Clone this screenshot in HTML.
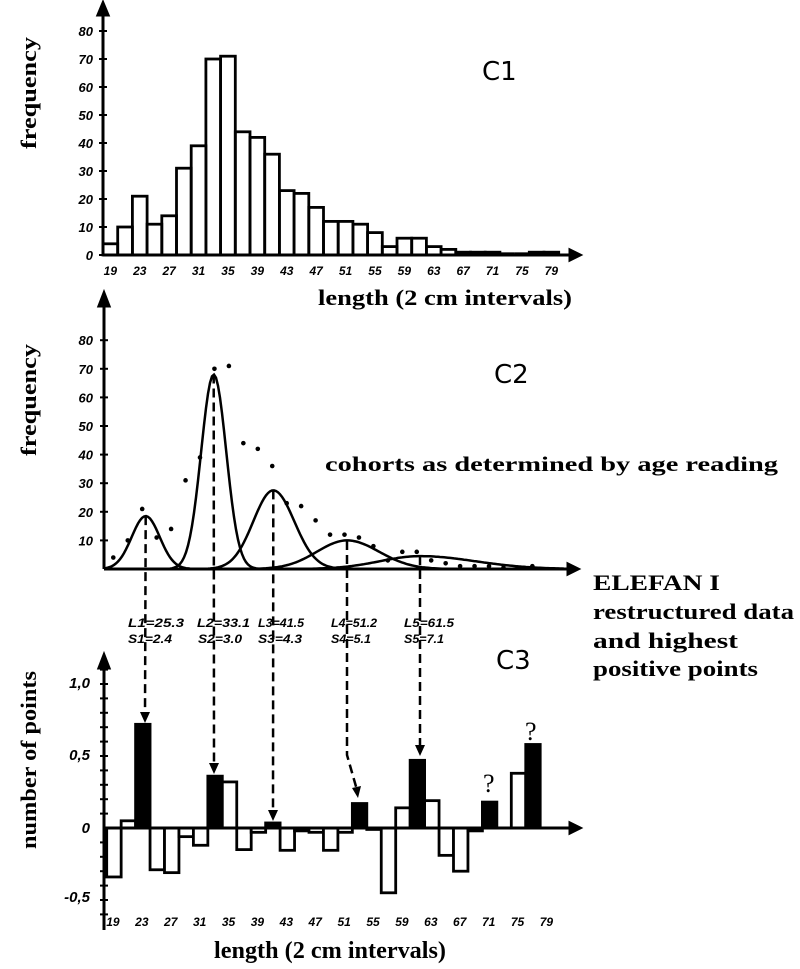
<!DOCTYPE html>
<html><head><meta charset="utf-8"><style>
html,body{margin:0;padding:0;background:#fff;width:800px;height:969px;overflow:hidden}
svg{display:block}
.hl{font-family:"Liberation Sans",sans-serif;font-style:italic;font-weight:bold;font-size:13px;fill:#000}
.tl{font-family:"Liberation Sans",sans-serif;font-style:italic;font-weight:bold;font-size:12px;fill:#000}
.sr{font-family:"Liberation Serif",serif;font-weight:bold;fill:#000}
.cl{font-family:"DejaVu Sans",sans-serif;font-size:26px;fill:#000}
</style></head><body>
<svg id="s" width="800" height="969" viewBox="0 0 800 969" xmlns="http://www.w3.org/2000/svg">
<g id="g" stroke="#000" fill="none" stroke-width="3"></g>
<text class="sr" font-size="22" transform="translate(36,93) rotate(-90)" text-anchor="middle" textLength="112" lengthAdjust="spacingAndGlyphs">frequency</text>
<text class="sr" font-size="22" transform="translate(36,400) rotate(-90)" text-anchor="middle" textLength="112" lengthAdjust="spacingAndGlyphs">frequency</text>
<text class="sr" font-size="22" transform="translate(36,760) rotate(-90)" text-anchor="middle" textLength="178" lengthAdjust="spacingAndGlyphs">number of points</text>
<text class="cl" x="482" y="80">C1</text>
<text class="cl" x="494" y="383">C2</text>
<text class="cl" x="496" y="669">C3</text>
<text class="sr" font-size="22" x="318" y="305" textLength="254" lengthAdjust="spacingAndGlyphs">length (2 cm intervals)</text>
<text class="sr" font-size="24" x="214" y="958" textLength="232" lengthAdjust="spacingAndGlyphs">length (2 cm intervals)</text>
<text class="sr" font-size="21" x="325" y="471" textLength="453" lengthAdjust="spacingAndGlyphs">cohorts as determined by age reading</text>
<text class="sr" font-size="22" x="593" y="590" textLength="127" lengthAdjust="spacingAndGlyphs">ELEFAN I</text>
<text class="sr" font-size="22" x="593" y="619" textLength="201" lengthAdjust="spacingAndGlyphs">restructured data</text>
<text class="sr" font-size="22" x="593" y="648" textLength="145" lengthAdjust="spacingAndGlyphs">and highest</text>
<text class="sr" font-size="22" x="593" y="676" textLength="165" lengthAdjust="spacingAndGlyphs">positive points</text>
<text class="tl" x="128" y="627" textLength="56" lengthAdjust="spacingAndGlyphs">L1=25.3</text><text class="tl" x="128" y="643" textLength="44" lengthAdjust="spacingAndGlyphs">S1=2.4</text>
<text class="tl" x="197" y="627" textLength="53" lengthAdjust="spacingAndGlyphs">L2=33.1</text><text class="tl" x="198" y="643" textLength="44" lengthAdjust="spacingAndGlyphs">S2=3.0</text>
<text class="tl" x="258" y="627" textLength="46" lengthAdjust="spacingAndGlyphs">L3=41.5</text><text class="tl" x="258" y="643" textLength="44" lengthAdjust="spacingAndGlyphs">S3=4.3</text>
<text class="tl" x="331" y="627" textLength="46" lengthAdjust="spacingAndGlyphs">L4=51.2</text><text class="tl" x="331" y="643" textLength="40" lengthAdjust="spacingAndGlyphs">S4=5.1</text>
<text class="tl" x="404" y="627" textLength="50" lengthAdjust="spacingAndGlyphs">L5=61.5</text><text class="tl" x="404" y="643" textLength="40" lengthAdjust="spacingAndGlyphs">S5=7.1</text>
<text class="sr" font-size="26" x="483" y="792" style="font-weight:normal">?</text>
<text class="sr" font-size="26" x="525" y="740" style="font-weight:normal">?</text>
<text class="hl" x="90" y="688" text-anchor="end" style="font-size:15px">1,0</text>
<text class="hl" x="90" y="760" text-anchor="end" style="font-size:15px">0,5</text>
<text class="hl" x="90" y="833" text-anchor="end" style="font-size:15px">0</text>
<text class="hl" x="90" y="902" text-anchor="end" style="font-size:15px">-0,5</text>
</svg>
<script>
var g=document.getElementById('g'),s=document.getElementById('s'),NS='http://www.w3.org/2000/svg';
function el(t,a,p){var e=document.createElementNS(NS,t);for(var k in a)e.setAttribute(k,a[k]);(p||g).appendChild(e);return e;}
function txt(x,y,t,c,anc){var e=el('text',{x:x,y:y,'class':c,'text-anchor':anc||'middle'},s);e.textContent=t;}
var f=[4,10,21,11,14,31,39,70,71,44,42,36,23,22,17,12,12,11,8,3,6,6,3,2,1,1,1,0.5,0.5,1,1];
var x0=103,w=14.7,y0=255,k=2.8;
for(var i=0;i<f.length;i++){var h=f[i]*k;if(h<1.5){el('line',{x1:x0+i*w,y1:y0-h,x2:x0+(i+1)*w,y2:y0-h,'stroke-width':2.5});continue;}
el('rect',{x:x0+i*w,y:y0-h,width:w,height:h,'stroke-width':2.8});}
el('line',{x1:x0,y1:y0,x2:575,y2:y0});el('polygon',{points:'580,255 570,250 570,260',fill:'#000'});
el('line',{x1:x0,y1:y0,x2:x0,y2:10});el('polygon',{points:'103,3 98,15 108,15',fill:'#000'});
for(var v=0;v<=80;v+=10){var yy=y0-v*k;el('line',{x1:99,y1:yy,x2:107,y2:yy,'stroke-width':2});txt(93,yy+5,v,'hl','end');}
var labs=[19,23,27,31,35,39,43,47,51,55,59,63,67,71,75,79];
for(var i=0;i<16;i++){txt(x0+w*(2*i+0.5),275,labs[i],'tl');}
var X0=104,Y0=569,K=2.86;
el('line',{x1:X0,y1:Y0,x2:573,y2:Y0});el('polygon',{points:'578,569 568,564 568,574',fill:'#000'});
el('line',{x1:X0,y1:Y0,x2:X0,y2:300});el('polygon',{points:'104,293 99,306 109,306',fill:'#000'});
for(var v=10;v<=80;v+=10){var yy=Y0-v*K;el('line',{x1:100,y1:yy,x2:108,y2:yy,'stroke-width':2});txt(93,yy+5,v,'hl','end');}
for(var i=0;i<30;i++){el('circle',{cx:113.3+i*14.45,cy:Y0-f[i]*K,r:2.3,fill:'#000',stroke:'none'});}
var cs=[[145.7,18.5,14,14],[213.7,68,12.5,12.5],[273.3,27.5,20,21],[347,10,30,32],[420,4.5,40,55]];
cs.forEach(function(c){var d='';for(var x=104;x<=565;x+=2){var sg=x<c[0]?c[2]:c[3];var y=Y0-c[1]*K*Math.exp(-Math.pow((x-c[0])/sg,2)/2);if(y>Y0-0.3)continue;d+=(d?'L':'M')+x+','+y.toFixed(1);}el('path',{d:d,'stroke-width':2.5});});
var dl=[[145.7,Y0-18.5*K,145,714],[213.7,Y0-68*K,214,765],[273.3,Y0-27.5*K,273,812]];
dl.forEach(function(a){el('line',{x1:a[0],y1:a[1],x2:a[2],y2:a[3],'stroke-dasharray':'9,5','stroke-width':2.5});el('polygon',{points:(a[2]-5)+','+(a[3]-2)+' '+(a[2]+5)+','+(a[3]-2)+' '+a[2]+','+(a[3]+9),fill:'#000',stroke:'none'});});
el('path',{d:'M347,541 L347,755 L357,790','stroke-dasharray':'9,5','stroke-width':2.5});
el('polygon',{points:'352,788 361,786 358,798',fill:'#000',stroke:'none'});
el('line',{x1:420,y1:556,x2:420,y2:747,'stroke-dasharray':'9,5','stroke-width':2.5});
el('polygon',{points:'415,745 425,745 420,756',fill:'#000',stroke:'none'});
var z0=828,KK=144,bx=106.7,bw=14.45;
var p=[-0.34,0.05,0.72,-0.29,-0.31,-0.06,-0.12,0.36,0.32,-0.15,-0.03,0.035,-0.155,-0.02,-0.03,-0.155,-0.03,0.17,-0.01,-0.45,0.14,0.47,0.19,-0.19,-0.30,-0.02,0.18,0,0.38,0.58];
var blk={2:1,7:1,11:1,17:1,21:1,26:1,29:1};
for(var i=0;i<p.length;i++){var h=p[i]*KK,x=bx+i*bw;if(Math.abs(h)<1)continue;
el('rect',{x:x,y:h>0?z0-h:z0,width:bw,height:Math.abs(h),fill:blk[i]?'#000':'#fff','stroke-width':2.8});}
el('line',{x1:X0,y1:z0,x2:575,y2:z0});el('polygon',{points:'580,828 570,823 570,833',fill:'#000'});
el('line',{x1:104,y1:930,x2:104,y2:665});el('polygon',{points:'104,655 99,668 109,668',fill:'#000'});
[-0.6,-0.5,-0.4,-0.3,-0.2,-0.1,0.1,0.2,0.3,0.4,0.5,0.6,0.7,0.8,0.9,1.0,1.1].forEach(function(v){var yy=z0-v*KK;el('line',{x1:100,y1:yy,x2:108,y2:yy,'stroke-width':2});});
for(var i=0;i<16;i++){txt(bx+bw*(2*i+0.5)-1,926,labs[i],'tl');}
</script>
</body></html>
